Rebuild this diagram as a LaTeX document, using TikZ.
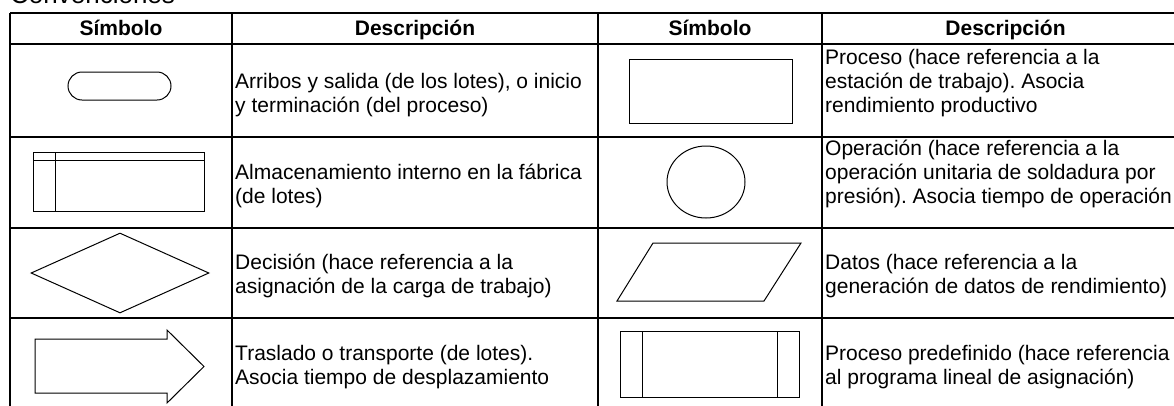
\documentclass[tikz,border=0pt]{standalone}
\usepackage{fontspec}
\setmainfont{Liberation Sans}
\usetikzlibrary{shapes.geometric}
\frenchspacing

\begin{document}
\begin{tikzpicture}[x=1pt,y=-1pt,
  grid/.style={draw=col_grid,line width=1.6pt},
  symb/.style={draw=col_sym,line width=1pt},
  head/.style={anchor=base,inner sep=0pt,font=\fontsize{21}{24}\selectfont\bfseries},
  desc/.style={anchor=south west,align=left,inner sep=0pt,font=\fontsize{21}{24}\selectfont}]
%
\definecolor{col_grid}{rgb}{0.0,0.0,0.0}
\definecolor{col_sym}{rgb}{0.0,0.0,0.0}
%
\useasboundingbox (0,0) rectangle (1174,405);
%
\node[anchor=base west,inner sep=0pt,font=\fontsize{26}{30}\selectfont] (title) at (10,3) {Convenciones};
%
% table
\draw[grid] (10,13) -- (1189,13);
\draw[grid] (10,44) -- (1189,44);
\draw[grid] (10,137) -- (1189,137);
\draw[grid] (10,228) -- (1189,228);
\draw[grid] (10,318) -- (1189,318);
\draw[grid] (10,409) -- (1189,409);
\draw[grid] (10,13) -- (10,409);
\draw[grid] (232,13) -- (232,409);
\draw[grid] (598,13) -- (598,409);
\draw[grid] (822,13) -- (822,409);
\draw[grid] (1189,13) -- (1189,409);
%
\node[head] (h1) at (121,35) {Símbolo};
\node[head] (h2) at (415,35) {Descripción};
\node[head] (h3) at (710,35) {Símbolo};
\node[head] (h4) at (1005.5,35) {Descripción};
%
% symbols
\node[symb,rounded corners=14pt,minimum width=103pt,minimum height=28pt,inner sep=0pt] (a1) at (119.5,86) {};
\node[symb,minimum width=163pt,minimum height=64pt,inner sep=0pt] (b1) at (710.5,91) {};
%
\draw[symb] (33,152) rectangle (204,211);
\draw[symb] (33,160) -- (204,160);
\draw[symb] (55,152) -- (55,211);
\node[symb,ellipse,minimum width=78pt,minimum height=72pt,inner sep=0pt] (b2) at (706,182) {};
%
\node[symb,diamond,minimum width=178pt,minimum height=80pt,inner sep=0pt] (a3) at (120,273) {};
\draw[symb] (653,243) -- (801,243) -- (764,301) -- (617,301) -- cycle;
%
\draw[symb] (35,339) -- (167,339) -- (167,330) -- (204,366.5) -- (167,403) -- (167,393) -- (35,393) -- cycle;
\draw[symb] (620,331) rectangle (799,397);
\draw[symb] (642,331) -- (642,397);
\draw[symb] (777,331) -- (777,397);
%
% descriptions
\node[desc] (ta1) at (235,120.2) {Arribos y salida (de los lotes), o inicio\\y terminación (del proceso)\strut};
\node[desc] (tb1) at (825,120.2) {Proceso (hace referencia a la\\estación de trabajo). Asocia\\rendimiento productivo\strut};
\node[desc] (ta2) at (235,211.2) {Almacenamiento interno en la fábrica\\(de lotes)\strut};
\node[desc] (tb2) at (825,211.2) {Operación (hace referencia a la\\operación unitaria de soldadura por\\presión). Asocia tiempo de operación\strut};
\node[desc] (ta3) at (235,301.2) {Decisión (hace referencia a la\\asignación de la carga de trabajo)\strut};
\node[desc] (tb3) at (825,301.2) {Datos (hace referencia a la\\generación de datos de rendimiento)\strut};
\node[desc] (ta4) at (235,392.2) {Traslado o transporte (de lotes).\\Asocia tiempo de desplazamiento\strut};
\node[desc] (tb4) at (825,392.2) {Proceso predefinido (hace referencia\\al programa lineal de asignación)\strut};
%
\end{tikzpicture}
\end{document}
